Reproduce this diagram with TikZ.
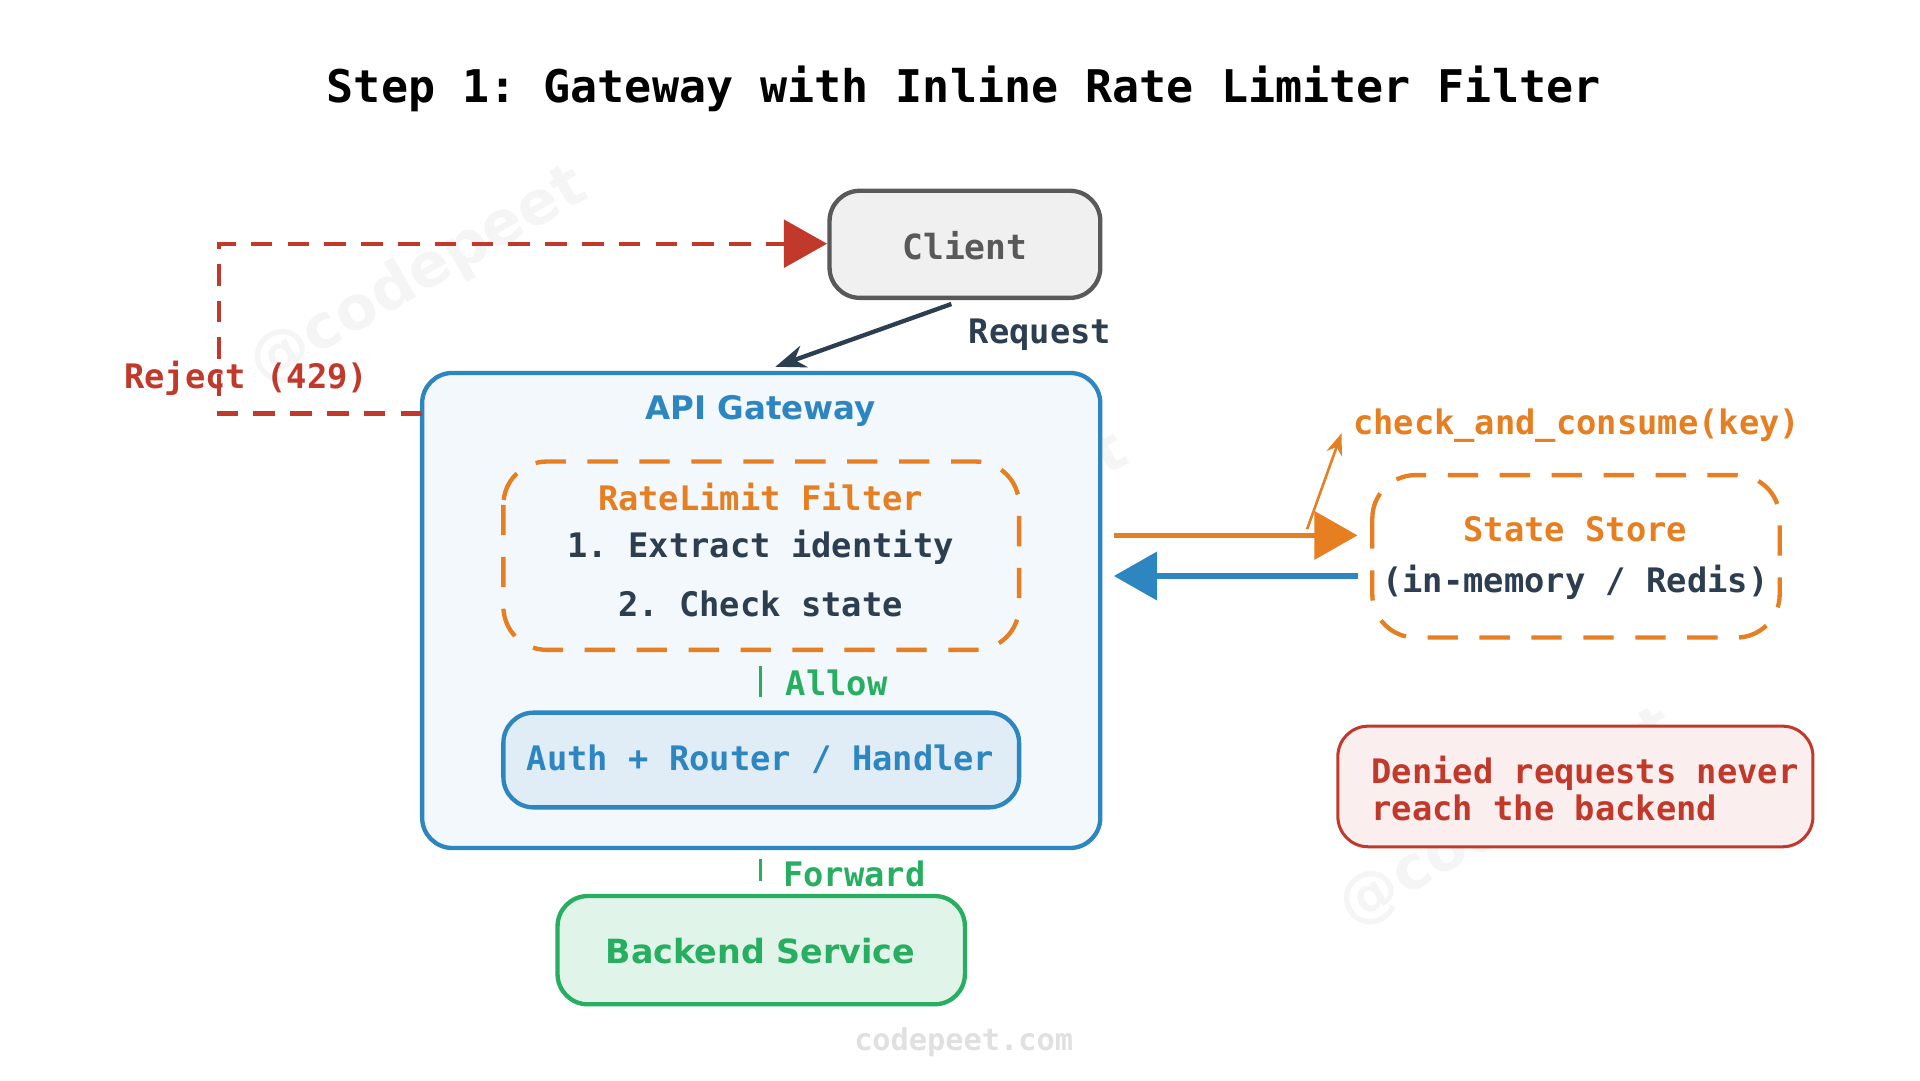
\documentclass[tikz,border=0pt]{standalone}
\usepackage{fontspec}
\setmonofont{DejaVu Sans Mono}
\setsansfont{DejaVu Sans}
\usetikzlibrary{arrows.meta,positioning}
\definecolor{gwblue}{HTML}{2E86C1}
\definecolor{rlorange}{HTML}{E67E22}
\definecolor{okgreen}{HTML}{27AE60}
\definecolor{rejred}{HTML}{C0392B}
\definecolor{inkdark}{HTML}{2C3E50}
\tikzset{
  box/.style={draw, rounded corners=7pt, line width=1pt},
  dashbox/.style={line width=1pt, dash pattern=on 7pt off 5pt, rounded corners=10pt},
  lbl/.style={font=\ttfamily\bfseries\fontsize{7.8}{9}\selectfont},
  head/.style={font=\sffamily\bfseries\fontsize{7.5}{9}\selectfont},
  bigtip/.style={-{Triangle[length=10pt,width=11pt]}},
  wmark/.style={font=\sffamily\bfseries\fontsize{14}{14}\selectfont, text=black!4, rotate=30}
}
\begin{document}
\begin{tikzpicture}[x=0.01cm,y=-0.01cm]
  \useasboundingbox (0,0) rectangle (1560,878);
  % faint watermarks
  \node[wmark] at (340,225) {@codepeet};
  \node[wmark] at (780,440) {@codepeet};
  \node[wmark] at (1225,665) {@codepeet};
  % title
  \node[font=\ttfamily\bfseries\fontsize{10.4}{12}\selectfont] (title) at (783,72) {Step 1: Gateway with Inline Rate Limiter Filter};
  % client
  \draw[box, draw=black!65, fill=black!6] (674,155) rectangle (894,242);
  \node[lbl, text=black!65, font=\ttfamily\bfseries\fontsize{8}{10}\selectfont] (client) at (784,200) {Client};
  % gateway
  \draw[box, draw=gwblue, fill=gwblue!6] (343,303) rectangle (894,689);
  \node[head, text=gwblue] (gw) at (618,334) {API Gateway};
  \coordinate (gwleft) at (343,336);
  % rate limit filter
  \draw[rlorange, dashbox] (409,375) rectangle (828,528);
  \node[lbl, text=rlorange] (filter) at (618,404) {RateLimit Filter};
  \node[lbl, text=inkdark] (step1) at (618,445) {1. Extract identity};
  \node[lbl, text=inkdark] (step2) at (618,491) {2. Check state};
  % allow
  \coordinate (allowtop) at (618,541);
  \coordinate (allowbot) at (618,566);
  \draw[okgreen, line width=0.6pt] (allowtop) -- (allowbot);
  \node[lbl, text=okgreen, anchor=west] (allow) at (626,555) {Allow};
  % auth
  \draw[box, draw=gwblue, fill=gwblue!15] (409,579) rectangle (828,656);
  \node[lbl, text=gwblue] (auth) at (618,617) {Auth + Router / Handler};
  % forward
  \coordinate (fwdtop) at (618,698);
  \coordinate (fwdbot) at (618,716);
  \draw[okgreen, line width=0.6pt] (fwdtop) -- (fwdbot);
  \node[lbl, text=okgreen, anchor=west] (forward) at (624,710) {Forward};
  % backend
  \draw[box, draw=okgreen, fill=okgreen!14] (453,728) rectangle (784,816);
  \node[head, text=okgreen, font=\sffamily\bfseries\fontsize{7.7}{9}\selectfont] (backend) at (618,773) {Backend Service};
  % request
  \coordinate (reqfrom) at (773,247);
  \coordinate (reqto) at (630,298);
  \draw[inkdark, line width=1pt, -{Stealth[length=7pt]}] (reqfrom) -- (reqto);
  \node[lbl, text=inkdark] (request) at (845,272) {Request};
  % reject
  \coordinate (rejcorner) at (178,336);
  \coordinate (rejtop) at (178,198);
  \coordinate (cliententry) at (672,198);
  \draw[rejred, line width=1pt, dash pattern=on 5pt off 3.5pt, bigtip] (gwleft) -- (rejcorner) -- (rejtop) -- (cliententry);
  \node[lbl, text=rejred] (reject) at (200,307) {Reject (429)};
  % state store
  \draw[rlorange, dashbox] (1115,386) rectangle (1446,518);
  \node[lbl, text=rlorange] (store) at (1280,430) {State Store};
  \node[lbl, text=inkdark] (storesub) at (1280,473) {(in-memory / Redis)};
  \coordinate (toout) at (905,435);
  \coordinate (toin) at (1103,435);
  \coordinate (backout) at (1103,468);
  \coordinate (backin) at (905,468);
  \draw[rlorange, line width=1.3pt, bigtip] (toout) -- (toin);
  \draw[gwblue, line width=1.3pt, bigtip] (backout) -- (backin);
  \coordinate (callfrom) at (1062,430);
  \coordinate (callto) at (1090,352);
  \draw[rlorange, line width=0.6pt, -{Stealth[length=5pt]}] (callfrom) -- (callto);
  \node[lbl, text=rlorange] (call) at (1281,346) {check\_and\_consume(key)};
  % note
  \draw[rounded corners=7pt, line width=0.7pt, draw=rejred, fill=rejred!8] (1087,590) rectangle (1473,688);
  \node[lbl, text=rejred, anchor=west, align=left, font=\ttfamily\bfseries\fontsize{7.8}{7.4}\selectfont] (note) at (1102,641) {Denied requests never\\reach the backend};
  % footer
  \node[font=\ttfamily\bfseries\fontsize{7}{9}\selectfont, text=black!12] (footer) at (783,847) {codepeet.com};
\end{tikzpicture}
\end{document}
